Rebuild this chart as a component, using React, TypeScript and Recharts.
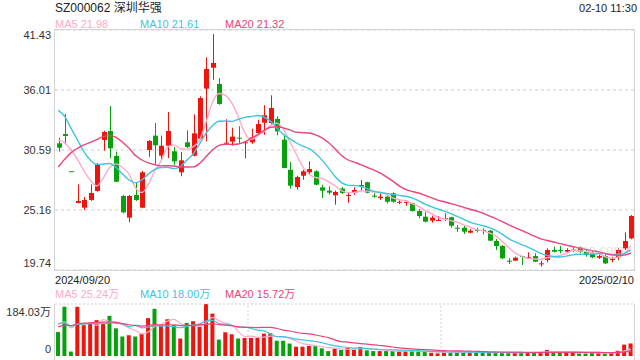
import React from "react";
import {
  ComposedChart,
  Bar,
  Line,
  XAxis,
  YAxis,
  CartesianGrid,
  ReferenceLine,
  Cell,
} from "recharts";

// trading days shown, grouped by month
const tradingDays: [string, number[]][] = [
  ["2024/09", [20, 23, 24, 25, 26, 27, 30]],
  ["2024/10", [8, 9, 10, 11, 14, 15, 16, 17, 18, 21, 22, 23, 24, 25, 28, 29, 30, 31]],
  ["2024/11", [1, 4, 5, 6, 7, 8, 11, 12, 13, 14, 15, 18, 19, 20, 21, 22, 25, 26, 27, 28, 29]],
  ["2024/12", [2, 3, 4, 5, 6, 9, 10, 11, 12, 13, 16, 17, 18, 19, 20, 23, 24, 25, 26, 27, 30, 31]],
  ["2025/01", [2, 3, 6, 7, 8, 9, 10, 13, 14, 15, 16, 17, 20, 21, 22, 23, 24, 27]],
  ["2025/02", [5, 6, 7, 10]],
];

const opens = [
  31.19, 32.03, 28.67, 25.8, 25.37, 26.07, 26.88, 31.49, 32.3, 30.04,
  26.43, 24.47, 26.52, 25.37, 30.59, 31.88, 30.07, 30.97, 30.47, 28.57,
  31.28, 30.07, 31.61, 36.13, 38.02, 36.55, 31.19, 31.34, 31.7, 31.19,
  31.28, 32.12, 33.05, 33.03, 33.39, 31.52, 28.8, 27.24, 28.26, 28.57,
  28.66, 27.21, 26.91, 26.49, 27.1, 26.43, 26.73, 27.3, 27.67, 26.46,
  26.25, 26.37, 26.67, 25.82, 25.8, 25.77, 25.07, 24.56, 24.2, 24.17,
  24.32, 24.5, 23.56, 23.56, 23.11, 23.36, 23.36, 23.29, 22.36, 21.91,
  20.58, 20.58, 21.0, 20.83, 21.0, 20.28, 20.64, 21.55, 21.55, 21.39,
  21.52, 21.76, 21.39, 21.25, 20.85, 21.0, 20.64, 20.89, 21.7, 22.6,
];
const highs = [
  31.7, 33.84, 28.67, 27.48, 26.34, 27.48, 29.41, 32.33, 34.56, 30.43,
  26.52, 26.52, 27.63, 28.69, 31.49, 33.03, 31.88, 34.02, 30.86, 30.4,
  32.36, 33.81, 35.44, 38.96, 41.07, 37.09, 33.36, 32.6, 32.73, 31.31,
  32.51, 33.32, 34.63, 35.53, 33.63, 31.97, 29.5, 28.26, 28.8, 29.56,
  28.75, 27.45, 27.3, 26.91, 27.24, 26.76, 27.21, 27.87, 27.72, 26.67,
  26.67, 26.52, 26.76, 26.13, 26.07, 25.82, 25.25, 25.01, 24.65, 24.62,
  24.86, 24.56, 23.81, 23.74, 23.44, 23.56, 23.51, 23.36, 22.54, 22.0,
  20.8, 20.94, 21.0, 21.34, 21.25, 20.58, 21.7, 21.85, 21.91, 21.7,
  21.85, 21.85, 21.55, 21.55, 21.16, 21.1, 20.94, 21.7, 23.15, 24.71,
];
const lows = [
  30.43, 31.1, 28.67, 25.77, 25.16, 25.98, 26.82, 30.52, 29.83, 27.67,
  24.86, 24.05, 25.98, 25.32, 29.98, 29.26, 29.77, 29.86, 29.26, 28.21,
  30.77, 30.01, 31.52, 31.37, 36.94, 34.68, 31.13, 30.97, 31.22, 29.83,
  31.13, 31.97, 31.97, 32.87, 31.91, 28.93, 27.09, 27.0, 27.9, 28.35,
  27.4, 26.25, 26.55, 25.64, 26.61, 25.82, 26.52, 26.91, 26.67, 26.27,
  26.07, 25.77, 25.82, 25.68, 25.55, 25.01, 24.41, 24.05, 24.02, 24.17,
  24.17, 23.56, 23.2, 22.99, 23.06, 23.14, 22.97, 22.39, 21.55, 20.73,
  20.28, 20.58, 20.19, 20.8, 20.49, 20.04, 20.43, 21.34, 21.25, 21.25,
  21.39, 21.25, 20.94, 20.8, 20.73, 20.28, 20.43, 20.64, 21.55, 22.51,
];
const closes = [
  30.79, 31.85, 28.67, 25.98, 26.07, 26.7, 29.29, 32.21, 30.74, 27.72,
  24.95, 26.43, 26.07, 28.57, 31.4, 31.01, 30.97, 32.3, 29.56, 29.65,
  30.86, 32.09, 35.28, 37.91, 38.45, 34.74, 31.25, 31.79, 31.64, 31.28,
  31.73, 32.93, 33.72, 34.38, 32.27, 28.96, 27.36, 28.14, 28.66, 28.87,
  27.45, 26.91, 26.73, 26.79, 26.7, 26.52, 26.97, 27.42, 26.73, 26.37,
  26.37, 25.91, 25.91, 25.91, 25.89, 25.07, 24.62, 24.11, 24.47, 24.26,
  24.41, 23.74, 23.47, 23.2, 23.29, 23.27, 23.27, 22.39, 21.91, 20.8,
  20.49, 20.85, 20.94, 20.89, 20.49, 20.34, 21.55, 21.39, 21.46, 21.55,
  21.58, 21.39, 21.1, 20.89, 21.0, 20.34, 20.73, 21.55, 22.36, 24.62,
];
// volume, 万 shares
const volumes = [
  84.7, 174, 15.7, 174, 109, 117, 127, 115, 142, 98,
  69, 73, 69, 79, 134, 167, 108, 130, 109, 62,
  117, 123, 108, 184.03, 150, 58, 84, 77, 62, 64,
  64, 65, 79, 81, 54, 54, 44, 33, 33, 36,
  35, 27.2, 17.4, 26, 21.2, 28.4, 23.4, 32.1, 20, 17.4,
  17.4, 17.4, 17.4, 16.4, 17.4, 18.4, 16.4, 13.9, 11.4, 9.1,
  15.1, 13.9, 13.9, 13.9, 10.4, 13.9, 11.4, 11.4, 11.4, 11.4,
  11.4, 12.4, 13.9, 12.4, 12.4, 13.9, 21.2, 13.9, 11.4, 13.9,
  13.9, 9.1, 9.1, 11.4, 10.4, 10.4, 12.4, 18.4, 40.4, 44.4,
];
// sessions before the window, estimated from where the MA lines start
const priorCloses = [
  18.0, 16.5, 18.2, 20.0, 22.0, 24.2, 26.6, 29.3, 30.7, 33.8,
  37.2, 39.6, 36.5, 36.7, 34.2, 33.2, 31.9, 30.2, 31.4,
];
const priorVolumes = [
  55, 40, 45, 70, 85, 95, 110, 120, 130, 160,
  150, 130, 110, 100, 105, 125, 120, 110, 115,
];

const priceTicks = [41.43, 36.01, 30.59, 25.16, 19.74];
const volumeTicks = [0, 184.03];
const priceMaLabels = ["MA5 21.98", "MA10 21.61", "MA20 21.32"];
const volumeMaLabels = ["MA5 25.24万", "MA10 18.00万", "MA20 15.72万"];

const RED = "#f0140e";
const GREEN = "#06a10c";
const MA_COLORS = ["#ffaac8", "#3ec5e2", "#ea4479"];
const FONT = "'Liberation Sans', Arial, 'Noto Sans CJK SC', sans-serif";

const dates = tradingDays.flatMap(([month, days]) =>
  days.map((d) => `${month}/${String(d).padStart(2, "0")}`)
);

const movingAverage = (values: number[], prior: number[], n: number) => {
  const all = [...prior, ...values];
  return values.map((_, i) => {
    const end = prior.length + i + 1;
    const win = all.slice(Math.max(0, end - n), end);
    return win.reduce((a, b) => a + b, 0) / win.length;
  });
};

const pMa5 = movingAverage(closes, priorCloses, 5);
const pMa10 = movingAverage(closes, priorCloses, 10);
const pMa20 = movingAverage(closes, priorCloses, 20);
const vMa5 = movingAverage(volumes, priorVolumes, 5);
const vMa10 = movingAverage(volumes, priorVolumes, 10);
const vMa20 = movingAverage(volumes, priorVolumes, 20);

const data = dates.map((date, i) => {
  const prev = i > 0 ? closes[i - 1] : priorCloses[priorCloses.length - 1];
  const up = closes[i] > opens[i] || (closes[i] === opens[i] && closes[i] >= prev);
  return {
    date,
    open: opens[i],
    high: highs[i],
    low: lows[i],
    close: closes[i],
    range: [lows[i], highs[i]],
    up,
    volume: volumes[i],
    ma5: pMa5[i],
    ma10: pMa10[i],
    ma20: pMa20[i],
    vma5: vMa5[i],
    vma10: vMa10[i],
    vma20: vMa20[i],
  };
});

const Candle = (props: any) => {
  const { x, y, width, height, payload } = props;
  const { open, close, high, low, up } = payload;
  const color = up ? RED : GREEN;
  const top0 = Math.min(y, y + height);
  const h = Math.abs(height);
  const cx = Math.round(x + width / 2) + 0.5;
  const span = high - low;
  const toY = (v: number) => (span > 0 ? top0 + ((high - v) / span) * h : top0);
  const bTop = toY(Math.max(open, close));
  const bBot = toY(Math.min(open, close));
  return (
    <g>
      <line x1={cx} x2={cx} y1={top0} y2={top0 + h} stroke={color} strokeWidth={1} />
      <rect x={cx - 2.5} y={bTop} width={5} height={Math.max(1, bBot - bTop)} fill={color} />
    </g>
  );
};

const PriceTick = (props: any) => {
  const { y, payload } = props;
  const v = payload.value;
  const dy = v === priceTicks[0] ? 9 : v === priceTicks[priceTicks.length - 1] ? -3 : 4;
  return (
    <text x={51} y={y + dy} textAnchor="end" fontSize={11} fill="#333" fontFamily={FONT}>
      {v.toFixed(2)}
    </text>
  );
};

const VolumeTick = (props: any) => {
  const { y, payload } = props;
  const top = payload.value > 0;
  return (
    <text x={51} y={y + (top ? 11.5 : -3.5)} textAnchor="end" fontSize={11} fill="#333" fontFamily={FONT}>
      {top ? `${payload.value.toFixed(2)}万` : "0"}
    </text>
  );
};

const DateTick = (props: any) => {
  const { x, y, payload } = props;
  const first = payload.value === dates[0];
  return (
    <text
      x={first ? x - 3.2 : x + 3.2}
      y={y + 11.7}
      textAnchor={first ? "start" : "end"}
      fontSize={11}
      fill="#222"
      fontFamily={FONT}
    >
      {payload.value}
    </text>
  );
};

const labelX = [55, 140, 225];

export default function App() {
  return (
    <div
      style={{
        position: "absolute",
        left: 0,
        top: 0,
        width: 640,
        height: 360,
        background: "#fff",
        fontFamily: FONT,
        overflow: "hidden",
      }}
    >
      <svg width={640} height={32} style={{ position: "absolute", left: 0, top: 0 }}>
        <text x={55} y={11.7} fontSize={12} fill="#222" fontFamily={FONT}>
          SZ000062 深圳华强
        </text>
        <text x={637} y={11.7} fontSize={11} fill="#222" textAnchor="end" fontFamily={FONT}>
          02-10 11:30
        </text>
        {priceMaLabels.map((t, i) => (
          <text key={t} x={labelX[i]} y={27.5} fontSize={11} fill={MA_COLORS[i]} fontFamily={FONT}>
            {t}
          </text>
        ))}
      </svg>

      <div style={{ position: "absolute", left: 0, top: 0 }}>
        <ComposedChart
          width={640}
          height={290}
          data={data}
          margin={{ top: 30, right: 6, bottom: 0, left: 0 }}
          barCategoryGap={0}
        >
          <CartesianGrid vertical={false} stroke="#e6e6e6" strokeWidth={2} strokeDasharray="3 3" />
          <XAxis
            dataKey="date"
            ticks={[dates[0], dates[dates.length - 1]]}
            interval={0}
            tickLine={false}
            axisLine={false}
            tickSize={0}
            height={20}
            tick={<DateTick />}
          />
          <YAxis
            domain={[19.74, 41.43]}
            ticks={priceTicks}
            interval={0}
            allowDataOverflow
            width={55}
            tickLine={false}
            axisLine={false}
            tickSize={0}
            tick={<PriceTick />}
          />
          <Bar dataKey="range" barSize={5} shape={<Candle />} isAnimationActive={false} />
          <Line dataKey="ma5" type="monotone" stroke={MA_COLORS[0]} strokeWidth={1.4} dot={false} isAnimationActive={false} />
          <Line dataKey="ma10" type="monotone" stroke={MA_COLORS[1]} strokeWidth={1.4} dot={false} isAnimationActive={false} />
          <Line dataKey="ma20" type="monotone" stroke={MA_COLORS[2]} strokeWidth={1.4} dot={false} isAnimationActive={false} />
        </ComposedChart>
      </div>
      <div
        style={{
          position: "absolute",
          left: 54,
          top: 29,
          width: 581,
          height: 242,
          border: "1px solid #d4d4d4",
          boxSizing: "border-box",
          pointerEvents: "none",
        }}
      />
      <div
        style={{
          position: "absolute",
          left: 572,
          top: 242,
          fontSize: 13,
          color: "#c8c8c8",
          opacity: 0.45,
          fontFamily: FONT,
        }}
      >
        sina.com
      </div>

      <svg width={640} height={20} style={{ position: "absolute", left: 0, top: 282 }}>
        {volumeMaLabels.map((t, i) => (
          <text key={t} x={labelX[i]} y={16} fontSize={11} fill={MA_COLORS[i]} fontFamily={FONT}>
            {t}
          </text>
        ))}
      </svg>

      <div style={{ position: "absolute", left: 0, top: 300 }}>
        <ComposedChart
          width={640}
          height={60}
          data={data}
          margin={{ top: 4, right: 6, bottom: 4, left: 0 }}
          barCategoryGap={0}
        >
          <XAxis dataKey="date" hide />
          <YAxis
            domain={[0, 184.03]}
            ticks={volumeTicks}
            interval={0}
            allowDataOverflow
            width={55}
            tickLine={false}
            axisLine={false}
            tickSize={0}
            tick={<VolumeTick />}
          />
          <ReferenceLine y={184.03} stroke="#cfcfcf" strokeDasharray="2 2" />
          <ReferenceLine x={dates[30]} position="start" stroke="#cfcfcf" strokeDasharray="2 2" />
          <ReferenceLine x={dates[60]} position="start" stroke="#cfcfcf" strokeDasharray="2 2" />
          <Bar dataKey="volume" barSize={4} isAnimationActive={false}>
            {data.map((d) => (
              <Cell key={d.date} fill={d.up ? RED : GREEN} />
            ))}
          </Bar>
          <Line dataKey="vma5" type="monotone" stroke={MA_COLORS[0]} strokeWidth={1.2} dot={false} isAnimationActive={false} />
          <Line dataKey="vma10" type="monotone" stroke={MA_COLORS[1]} strokeWidth={1.2} dot={false} isAnimationActive={false} />
          <Line dataKey="vma20" type="monotone" stroke={MA_COLORS[2]} strokeWidth={1.2} dot={false} isAnimationActive={false} />
        </ComposedChart>
      </div>
      <div
        style={{
          position: "absolute",
          left: 54,
          top: 304,
          width: 581,
          height: 60,
          borderLeft: "1px solid #d4d4d4",
          borderRight: "1px solid #d4d4d4",
          boxSizing: "border-box",
          pointerEvents: "none",
        }}
      />
    </div>
  );
}
